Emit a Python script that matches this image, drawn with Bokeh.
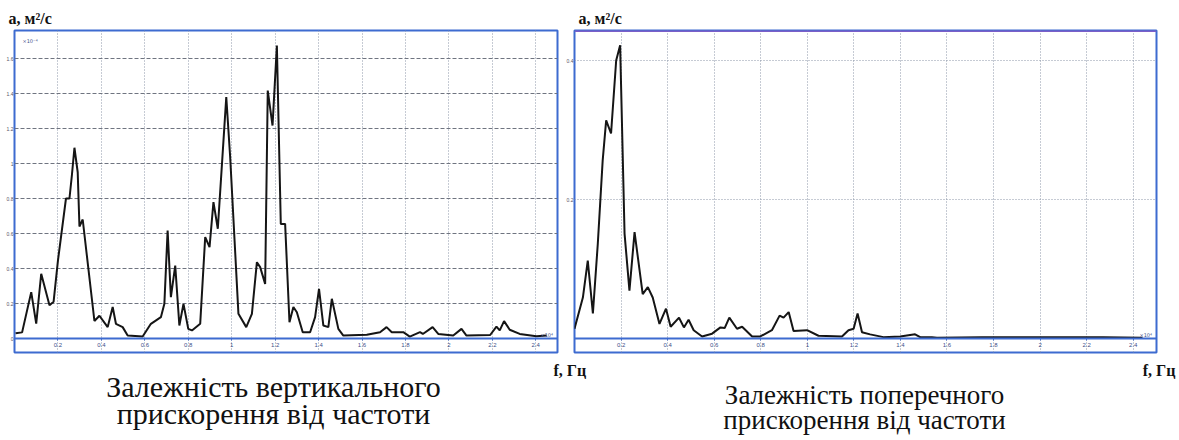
from bokeh.plotting import figure
from bokeh.models import Range1d, FixedTicker, Label, Span
from bokeh.layouts import row, column
from bokeh.embed import file_html
from bokeh.resources import INLINE

# ---------------- data ----------------
x_ticks = [0.2, 0.4, 0.6, 0.8, 1.0, 1.2, 1.4, 1.6, 1.8, 2.0, 2.2, 2.4]
x_tick_labels = ["0.2", "0.4", "0.6", "0.8", "1", "1.2", "1.4", "1.6", "1.8", "2", "2.2", "2.4"]

left_y_ticks = [0.0, 0.2, 0.4, 0.6, 0.8, 1.0, 1.2, 1.4, 1.6]
left_y_tick_labels = ["0", "0.2", "0.4", "0.6", "0.8", "1", "1.2", "1.4", "1.6"]

right_y_ticks = [0.2, 0.4]
right_y_tick_labels = ["0.2", "0.4"]

# vertical acceleration spectrum
vert_f = [0.005, 0.035, 0.077, 0.100, 0.123, 0.161, 0.180, 0.200, 0.237, 0.253,
          0.264, 0.276, 0.291, 0.299, 0.314, 0.368, 0.391, 0.429, 0.452, 0.467,
          0.498, 0.521, 0.590, 0.628, 0.674, 0.690, 0.705, 0.720, 0.740, 0.759,
          0.778, 0.800, 0.817, 0.855, 0.878, 0.898, 0.916, 0.936, 0.975, 0.993,
          1.031, 1.067, 1.093, 1.116, 1.131, 1.154, 1.166, 1.188, 1.208, 1.226,
          1.246, 1.266, 1.284, 1.300, 1.327, 1.361, 1.384, 1.402, 1.422, 1.445,
          1.461, 1.491, 1.514, 1.622, 1.683, 1.713, 1.737, 1.790, 1.820, 1.867,
          1.880, 1.925, 1.951, 2.020, 2.058, 2.081, 2.190, 2.219, 2.234, 2.254,
          2.280, 2.326, 2.403, 2.450]
vert_a = [0.030, 0.035, 0.265, 0.085, 0.370, 0.190, 0.210, 0.445, 0.800, 0.800,
          0.930, 1.090, 0.950, 0.640, 0.680, 0.100, 0.130, 0.065, 0.180, 0.084,
          0.065, 0.017, 0.011, 0.084, 0.122, 0.198, 0.617, 0.236, 0.417, 0.074,
          0.198, 0.055, 0.046, 0.084, 0.579, 0.522, 0.779, 0.627, 1.379, 1.036,
          0.141, 0.065, 0.141, 0.436, 0.408, 0.312, 1.417, 1.217, 1.674, 0.655,
          0.655, 0.093, 0.180, 0.150, 0.036, 0.036, 0.122, 0.284, 0.074, 0.065,
          0.227, 0.055, 0.017, 0.021, 0.036, 0.065, 0.036, 0.036, 0.011, 0.036,
          0.026, 0.065, 0.026, 0.017, 0.055, 0.017, 0.020, 0.068, 0.046, 0.099,
          0.050, 0.026, 0.013, 0.017]

# transverse acceleration spectrum
trans_f = [0.000, 0.036, 0.057, 0.079, 0.100, 0.121, 0.136, 0.157, 0.179, 0.196,
           0.215, 0.236, 0.258, 0.293, 0.315, 0.336, 0.365, 0.393, 0.413, 0.449,
           0.470, 0.490, 0.512, 0.548, 0.591, 0.627, 0.645, 0.665, 0.698, 0.720,
           0.763, 0.798, 0.848, 0.881, 0.898, 0.920, 0.941, 0.999, 1.048, 1.149,
           1.177, 1.199, 1.216, 1.235, 1.270, 1.327, 1.399, 1.463, 1.485, 1.535,
           1.557, 1.750, 1.943, 2.270, 2.440]
trans_a = [0.014, 0.059, 0.112, 0.036, 0.136, 0.256, 0.314, 0.295, 0.400, 0.422,
           0.151, 0.069, 0.153, 0.064, 0.074, 0.059, 0.021, 0.043, 0.017, 0.030,
           0.016, 0.027, 0.012, 0.003, 0.007, 0.016, 0.015, 0.030, 0.014, 0.017,
           0.003, 0.003, 0.012, 0.033, 0.030, 0.038, 0.011, 0.012, 0.004, 0.003,
           0.012, 0.014, 0.036, 0.009, 0.006, 0.002, 0.003, 0.006, 0.002, 0.002,
           0.001, 0.002, 0.002, 0.002, 0.001]

y_label = "a, м²/с"
x_label = "f, Гц"
caption_left = ["Залежність вертикального", "прискорення від частоти"]
caption_right = ["Залежність поперечного", "прискорення від частоти"]

# ---------------- styling ----------------
BLUE = "#3d6bd0"
PURPLE = "#7b5fc8"
SERIF = "Liberation Serif"
PAGE_W = 1179
TOP_H = 28      # strip with the axis names above the frames
CHART_H = 326   # frames occupy y = 30..352
BOT_H = 84      # strip with "f, Гц" and the captions


def make_fig(width, min_left, min_right, y_range, y_ticks, y_tick_labels,
             hgrid_dash, hgrid_color):
    p = figure(width=width, height=CHART_H, x_range=Range1d(0, 2.5),
               y_range=Range1d(*y_range), output_backend="svg",
               toolbar_location=None, min_border_left=min_left,
               min_border_right=min_right, min_border_top=2,
               min_border_bottom=2)
    p.background_fill_color = "white"
    p.border_fill_color = "white"
    p.outline_line_color = BLUE
    p.outline_line_width = 2
    p.outline_line_alpha = 1.0

    # x axis drawn on the zero line inside the frame
    p.xaxis.fixed_location = 0
    p.xaxis.ticker = FixedTicker(ticks=x_ticks)
    p.xaxis.major_label_overrides = {t: s for t, s in zip(x_ticks, x_tick_labels)}
    p.xaxis.axis_line_color = BLUE
    p.xaxis.axis_line_width = 2
    p.xaxis.major_tick_line_color = BLUE
    p.xaxis.major_tick_in = 0
    p.xaxis.major_tick_out = 2
    p.xaxis.minor_tick_line_color = None
    p.xaxis.major_label_text_font_size = "6px"
    p.xaxis.major_label_text_color = "#40508a"
    p.xaxis.major_label_standoff = 2

    p.yaxis.ticker = FixedTicker(ticks=y_ticks)
    p.yaxis.major_label_overrides = {t: s for t, s in zip(y_ticks, y_tick_labels)}
    p.yaxis.axis_line_color = None
    p.yaxis.major_tick_line_color = None
    p.yaxis.minor_tick_line_color = None
    p.yaxis.major_tick_in = 0
    p.yaxis.major_tick_out = 0
    p.yaxis.major_label_text_font_size = "5px"
    p.yaxis.major_label_text_color = "#555566"
    p.yaxis.major_label_standoff = 1

    p.xgrid.ticker = FixedTicker(ticks=x_ticks)
    p.xgrid.grid_line_color = "#8c96a8"
    p.xgrid.grid_line_dash = "1 2"
    p.xgrid.grid_line_width = 1
    p.ygrid.ticker = FixedTicker(ticks=[t for t in y_ticks if t > 0])
    p.ygrid.grid_line_color = hgrid_color
    p.ygrid.grid_line_dash = hgrid_dash
    p.ygrid.grid_line_width = 1
    return p


# left chart: frame 14..557 px
p1 = make_fig(559, 14, 2, (-0.08, 1.76), left_y_ticks, left_y_tick_labels,
              "4 2", "#6f7480")
p1.line(vert_f, vert_a, line_color="#151515", line_width=2)

# right chart: frame 574..1156 px
p2 = make_fig(PAGE_W - 559, 15, 23, (-0.0201, 0.4432), right_y_ticks,
              right_y_tick_labels, "1 2", "#8c96a8")
p2.line(trans_f, trans_a, line_color="#151515", line_width=2)
p2.add_layout(Span(location=0.4432, dimension="width", line_color=PURPLE,
                   line_width=3))


def add_label(p, text, x, y, size, bold=False, align="left", baseline="middle",
              color="#111111", font=SERIF, units="screen"):
    p.add_layout(Label(x=x, y=y, x_units=units, y_units=units, text=text,
                       text_font=font, text_font_size=size,
                       text_font_style="bold" if bold else "normal",
                       text_align=align, text_baseline=baseline,
                       text_color=color))


# small exponent marks inside the frames
add_label(p1, "×10⁻⁴", 8, 312, "5px", color="#40508a", font="DejaVu Sans")
add_label(p1, "×10⁴", 526, 18, "5px", color="#40508a", font="DejaVu Sans")
add_label(p2, "×10⁴", 565, 18, "5px", color="#40508a", font="DejaVu Sans")


def text_strip(height):
    s = figure(width=PAGE_W, height=height, x_range=Range1d(0, PAGE_W),
               y_range=Range1d(height, 0), output_backend="svg",
               toolbar_location=None, x_axis_type=None, y_axis_type=None,
               min_border=0)
    s.grid.visible = False
    s.outline_line_color = None
    s.background_fill_color = "white"
    s.border_fill_color = "white"
    return s


top = text_strip(TOP_H)
add_label(top, y_label, 8, 18, "16px", bold=True, units="data")
add_label(top, y_label, 578, 18, "16px", bold=True, units="data")

bot = text_strip(BOT_H)
y0 = TOP_H + CHART_H
add_label(bot, x_label, 553, 370 - y0, "16px", bold=True, units="data")
add_label(bot, x_label, 1175, 370 - y0, "16px", bold=True, align="right", units="data")
add_label(bot, caption_left[0], 273, 386 - y0, "30px", align="center", units="data")
add_label(bot, caption_left[1], 273, 413 - y0, "30px", align="center", units="data")
add_label(bot, caption_right[0], 864, 394 - y0, "27px", align="center", units="data")
add_label(bot, caption_right[1], 864, 419 - y0, "27px", align="center", units="data")

layout = column(top, row(p1, p2), bot)
open("out.html", "w").write(file_html(layout, INLINE))
